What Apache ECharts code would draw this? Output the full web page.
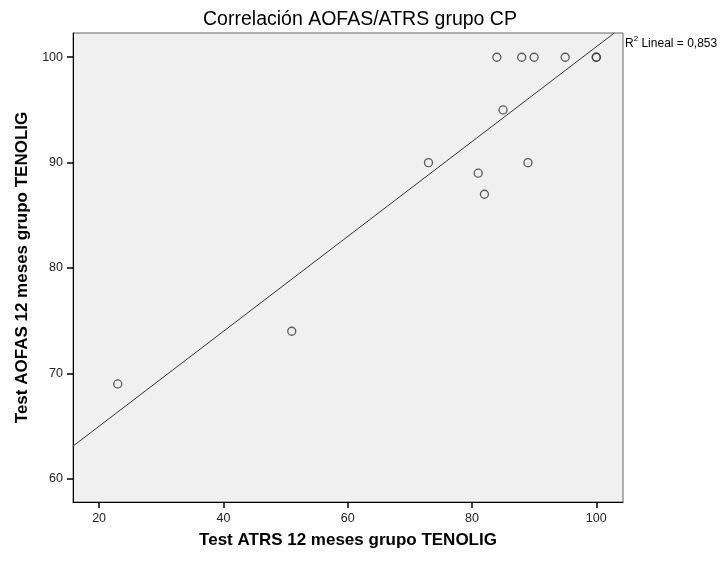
<!DOCTYPE html>
<html><head><meta charset="utf-8">
<script src="https://cdn.jsdelivr.net/npm/echarts@6/dist/echarts.min.js"></script>
<style>html,body{margin:0;padding:0;background:#fff}#c{width:721px;height:566px}</style>
</head><body><div id="c"></div>
<script>
// ATRS (x) vs AOFAS (y)
const atrs  = [23, 51, 73, 81, 82, 84, 85, 88, 89, 90, 95, 100, 100];
const aofas = [69, 74, 90, 89, 87, 100, 95, 100, 90, 100, 100, 100, 100];
// Fit line endpoints
const fitX = [15.8, 102.9];
const fitY = [63.1, 102.3];
const xTicks = [20, 40, 60, 80, 100];
const yTicks = [60, 70, 80, 90, 100];
const titleText = 'Correlación AOFAS/ATRS grupo CP';
const xName = 'Test ATRS 12 meses grupo TENOLIG';
const yName = 'Test AOFAS 12 meses grupo TENOLIG';
const r2Text = '0,853';

const points = atrs.map((x, i) => [x, aofas[i]]);
const fit = fitX.map((x, i) => [x, fitY[i]]);
const F = '"Liberation Sans", Arial, sans-serif';

const chart = echarts.init(document.getElementById('c'), null, {renderer: 'canvas'});
chart.setOption({
  animation: false,
  backgroundColor: '#fff',
  title: {
    text: titleText, left: 355, top: 5, textAlign: 'center',
    textStyle: {fontFamily: F, fontSize: 19.5, fontWeight: 'normal', color: '#000'}
  },
  grid: {
    left: 73, right: 98, top: 33, bottom: 64,
    show: true, backgroundColor: '#f0f0f0', borderColor: '#666', borderWidth: 1
  },
  xAxis: {
    type: 'value', min: 15.8, max: 104.3,
    name: xName, nameLocation: 'middle', nameGap: 30,
    nameTextStyle: {fontFamily: F, fontSize: 17, fontWeight: 'bold', color: '#000'},
    axisLine: {show: true, lineStyle: {color: '#000', width: 1}},
    axisTick: {show: true, length: 6, customValues: xTicks, lineStyle: {color: '#000', width: 1.5}},
    axisLabel: {customValues: xTicks, fontFamily: F, fontSize: 12.5, color: '#222', margin: 10},
    splitLine: {show: false}
  },
  yAxis: {
    type: 'value', min: 57.8, max: 102.3,
    name: yName, nameLocation: 'middle', nameGap: 42, nameRotate: 90,
    nameTextStyle: {fontFamily: F, fontSize: 17, fontWeight: 'bold', color: '#000'},
    axisLine: {show: true, lineStyle: {color: '#000', width: 1}},
    axisTick: {show: true, length: 6, customValues: yTicks, lineStyle: {color: '#000', width: 1.5}},
    axisLabel: {customValues: yTicks, fontFamily: F, fontSize: 12.5, color: '#222', margin: 10},
    splitLine: {show: false}
  },
  graphic: [{
    type: 'text', left: 625, top: 35,
    style: {
      text: '{a|R}{s|2}{a| Lineal = ' + r2Text + '}',
      rich: {
        a: {fontFamily: F, fontSize: 12, fill: '#000', verticalAlign: 'bottom'},
        s: {fontFamily: F, fontSize: 8, fill: '#000', verticalAlign: 'top', padding: [0, 0, 7, 0]}
      }
    }
  }],
  series: [
    {
      type: 'line', data: fit, showSymbol: false, symbol: 'none', clip: true,
      lineStyle: {color: '#333', width: 1}, silent: true, z: 1
    },
    {
      type: 'scatter', data: points, symbol: 'circle', symbolSize: 8,
      itemStyle: {color: 'rgba(0,0,0,0)', borderColor: '#333', borderWidth: 1.3}, z: 2
    }
  ]
});
</script></body></html>
